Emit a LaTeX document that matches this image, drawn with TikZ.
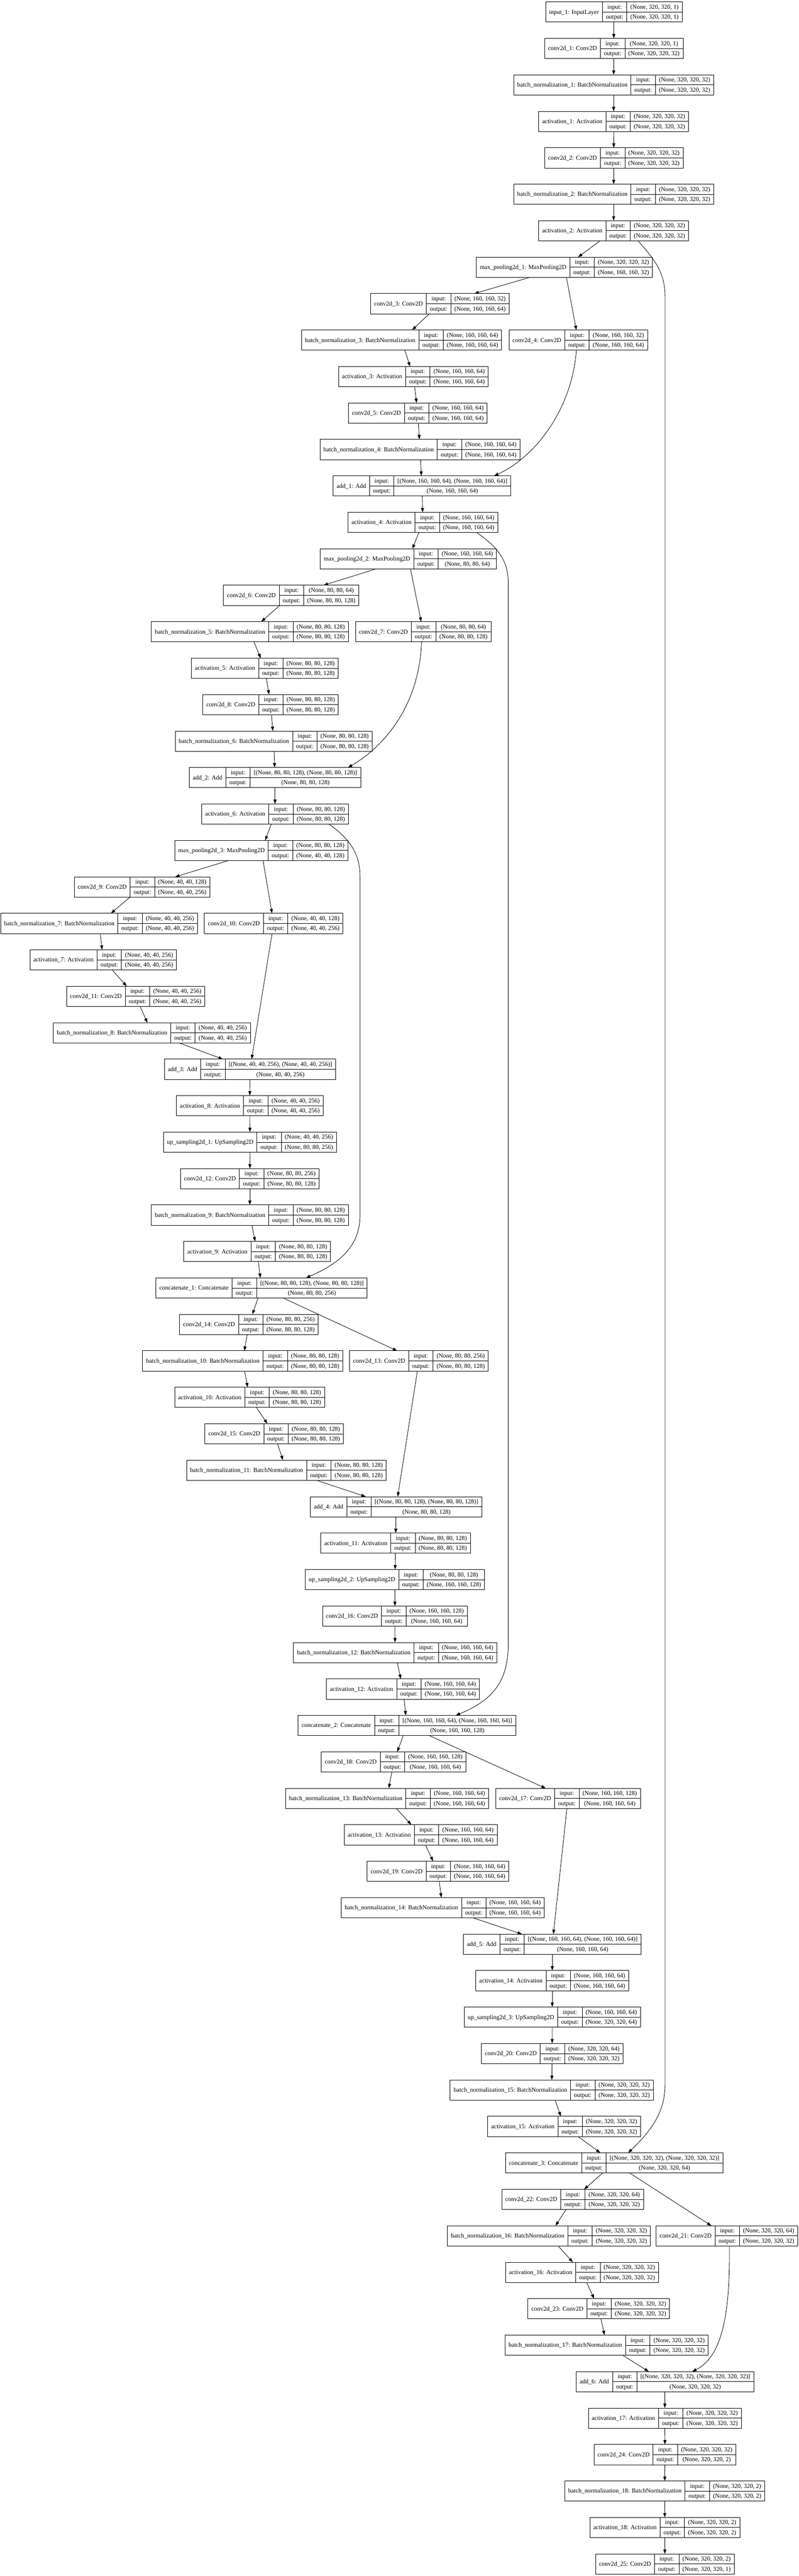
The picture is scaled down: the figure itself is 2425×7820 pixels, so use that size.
\documentclass[tikz,border=0pt]{standalone}
\usepackage{fontspec}
\newfontfamily\tnr{Liberation Serif}
\usetikzlibrary{arrows.meta}
\newcommand\lf{\tnr\fontsize{18.67pt}{22pt}\selectfont}
\newcommand\us{\char95\relax}
\newdimen\Lwn \newdimen\Lwio \newdimen\Lwv \newdimen\Ltmp
\tikzset{
  recbox/.style={draw, line width=1.33pt, inner sep=0pt, outer sep=0pt, rectangle},
  fld/.style={line width=1.33pt},
  txt/.style={inner sep=0pt, font=\tnrA, text height=14pt, text depth=2pt},
  edge/.style={line width=1.33pt, -{Triangle[length=13.3pt,width=9.3pt]}},
}
% #1 id, #2 centre x, #3 rank, #4 name, #5 input shape, #6 output shape
\newcommand\layer[6]{%
  \setbox0\hbox{\tnrA #4}\Lwn=\wd0
  \setbox0\hbox{\tnrA output:}\Lwio=\wd0
  \setbox0\hbox{\tnrA #5}\Lwv=\wd0
  \setbox0\hbox{\tnrA #6}\Ltmp=\wd0
  \ifdim\Ltmp>\Lwv \Lwv=\Ltmp\fi
  \pgfmathsetmacro\Wn{\Lwn+21.33}%
  \pgfmathsetmacro\Wio{\Lwio+21.33}%
  \pgfmathsetmacro\Wv{\Lwv+21.33}%
  \pgfmathsetmacro\Wt{\Wn+\Wio+\Wv}%
  \pgfmathsetmacro\Xl{#2-\Wt/2}%
  \pgfmathsetmacro\Yt{-(5.8+110.67*(#3-1))}%
  \pgfmathsetmacro\Xa{\Xl+\Wn}%
  \pgfmathsetmacro\Xb{\Xa+\Wio}%
  \pgfmathsetmacro\Xr{\Xl+\Wt}%
  \pgfmathsetmacro\Ym{\Yt-30.665}%
  \pgfmathsetmacro\Yb{\Yt-61.33}%
  \pgfmathsetmacro\Yi{\Yt-15.33}%
  \pgfmathsetmacro\Yo{\Yt-46}%
  \pgfmathsetmacro\Xn{\Xl+\Wn/2}%
  \pgfmathsetmacro\Xio{\Xa+\Wio/2}%
  \pgfmathsetmacro\Xv{\Xb+\Wv/2}%
  \node[recbox, minimum width=\Wt pt, minimum height=61.33pt, anchor=north west] (#1) at (\Xl,\Yt) {};
  \draw[fld] (\Xa,\Yt) -- (\Xa,\Yb) (\Xb,\Yt) -- (\Xb,\Yb) (\Xa,\Ym) -- (\Xr,\Ym);
  \node[txt] (#1-n) at (\Xn,\Ym) {#4};
  \node[txt] (#1-i) at (\Xio,\Yi) {input:};
  \node[txt] (#1-o) at (\Xio,\Yo) {output:};
  \node[txt] (#1-vi) at (\Xv,\Yi) {#5};
  \node[txt] (#1-vo) at (\Xv,\Yo) {#6};
}
\begin{document}
\begingroup\lf\expandafter\global\expandafter\let\expandafter\tnrA\the\font\endgroup
\begin{tikzpicture}[x=1pt,y=1pt]
\fill[white] (0,0) rectangle (2425,-7820);
\useasboundingbox (0,0) rectangle (2425,-7820);
\layer{in1}{1863.5}{1}{input\us1: InputLayer}{(None, 320, 320, 1)}{(None, 320, 320, 1)}
\layer{c1}{1863.5}{2}{conv2d\us1: Conv2D}{(None, 320, 320, 1)}{(None, 320, 320, 32)}
\layer{bn1}{1863}{3}{batch\us normalization\us1: BatchNormalization}{(None, 320, 320, 32)}{(None, 320, 320, 32)}
\layer{a1}{1863}{4}{activation\us1: Activation}{(None, 320, 320, 32)}{(None, 320, 320, 32)}
\layer{c2}{1863.5}{5}{conv2d\us2: Conv2D}{(None, 320, 320, 32)}{(None, 320, 320, 32)}
\layer{bn2}{1863}{6}{batch\us normalization\us2: BatchNormalization}{(None, 320, 320, 32)}{(None, 320, 320, 32)}
\layer{a2}{1863}{7}{activation\us2: Activation}{(None, 320, 320, 32)}{(None, 320, 320, 32)}
\layer{mp1}{1713.8}{8}{max\us pooling2d\us1: MaxPooling2D}{(None, 320, 320, 32)}{(None, 160, 160, 32)}
\layer{c3}{1335.5}{9}{conv2d\us3: Conv2D}{(None, 160, 160, 32)}{(None, 160, 160, 64)}
\layer{bn3}{1219}{10}{batch\us normalization\us3: BatchNormalization}{(None, 160, 160, 64)}{(None, 160, 160, 64)}
\layer{c4}{1755.5}{10}{conv2d\us4: Conv2D}{(None, 160, 160, 32)}{(None, 160, 160, 64)}
\layer{a3}{1255}{11}{activation\us3: Activation}{(None, 160, 160, 64)}{(None, 160, 160, 64)}
\layer{c5}{1268.5}{12}{conv2d\us5: Conv2D}{(None, 160, 160, 64)}{(None, 160, 160, 64)}
\layer{bn4}{1275}{13}{batch\us normalization\us4: BatchNormalization}{(None, 160, 160, 64)}{(None, 160, 160, 64)}
\layer{add1}{1281}{14}{add\us1: Add}{[(None, 160, 160, 64), (None, 160, 160, 64)]}{(None, 160, 160, 64)}
\layer{a4}{1284}{15}{activation\us4: Activation}{(None, 160, 160, 64)}{(None, 160, 160, 64)}
\layer{mp2}{1239.8}{16}{max\us pooling2d\us2: MaxPooling2D}{(None, 160, 160, 64)}{(None, 80, 80, 64)}
\layer{c6}{884}{17}{conv2d\us6: Conv2D}{(None, 80, 80, 64)}{(None, 80, 80, 128)}
\layer{bn5}{758.5}{18}{batch\us normalization\us5: BatchNormalization}{(None, 80, 80, 128)}{(None, 80, 80, 128)}
\layer{c7}{1285}{18}{conv2d\us7: Conv2D}{(None, 80, 80, 64)}{(None, 80, 80, 128)}
\layer{a5}{804}{19}{activation\us5: Activation}{(None, 80, 80, 128)}{(None, 80, 80, 128)}
\layer{c8}{821.5}{20}{conv2d\us8: Conv2D}{(None, 80, 80, 128)}{(None, 80, 80, 128)}
\layer{bn6}{831}{21}{batch\us normalization\us6: BatchNormalization}{(None, 80, 80, 128)}{(None, 80, 80, 128)}
\layer{add2}{835}{22}{add\us2: Add}{[(None, 80, 80, 128), (None, 80, 80, 128)]}{(None, 80, 80, 128)}
\layer{a6}{835}{23}{activation\us6: Activation}{(None, 80, 80, 128)}{(None, 80, 80, 128)}
\layer{mp3}{793.5}{24}{max\us pooling2d\us3: MaxPooling2D}{(None, 80, 80, 128)}{(None, 40, 40, 128)}
\layer{c9}{431.3}{25}{conv2d\us9: Conv2D}{(None, 40, 40, 128)}{(None, 40, 40, 256)}
\layer{bn7}{300.7}{26}{batch\us normalization\us7: BatchNormalization}{(None, 40, 40, 256)}{(None, 40, 40, 256)}
\layer{c10}{831}{26}{conv2d\us10: Conv2D}{(None, 40, 40, 128)}{(None, 40, 40, 256)}
\layer{a7}{313.5}{27}{activation\us7: Activation}{(None, 40, 40, 256)}{(None, 40, 40, 256)}
\layer{c11}{411.8}{28}{conv2d\us11: Conv2D}{(None, 40, 40, 256)}{(None, 40, 40, 256)}
\layer{bn8}{461}{29}{batch\us normalization\us8: BatchNormalization}{(None, 40, 40, 256)}{(None, 40, 40, 256)}
\layer{add3}{759}{30}{add\us3: Add}{[(None, 40, 40, 256), (None, 40, 40, 256)]}{(None, 40, 40, 256)}
\layer{a8}{758.3}{31}{activation\us8: Activation}{(None, 40, 40, 256)}{(None, 40, 40, 256)}
\layer{up1}{759}{32}{up\us sampling2d\us1: UpSampling2D}{(None, 40, 40, 256)}{(None, 80, 80, 256)}
\layer{c12}{758.5}{33}{conv2d\us12: Conv2D}{(None, 80, 80, 256)}{(None, 80, 80, 128)}
\layer{bn9}{758.5}{34}{batch\us normalization\us9: BatchNormalization}{(None, 80, 80, 128)}{(None, 80, 80, 128)}
\layer{a9}{781}{35}{activation\us9: Activation}{(None, 80, 80, 128)}{(None, 80, 80, 128)}
\layer{cat1}{794}{36}{concatenate\us1: Concatenate}{[(None, 80, 80, 128), (None, 80, 80, 128)]}{(None, 80, 80, 256)}
\layer{c14}{755.5}{37}{conv2d\us14: Conv2D}{(None, 80, 80, 256)}{(None, 80, 80, 128)}
\layer{bn10}{736.7}{38}{batch\us normalization\us10: BatchNormalization}{(None, 80, 80, 128)}{(None, 80, 80, 128)}
\layer{c13}{1272}{38}{conv2d\us13: Conv2D}{(None, 80, 80, 256)}{(None, 80, 80, 128)}
\layer{a10}{757.8}{39}{activation\us10: Activation}{(None, 80, 80, 128)}{(None, 80, 80, 128)}
\layer{c15}{832.4}{40}{conv2d\us15: Conv2D}{(None, 80, 80, 128)}{(None, 80, 80, 128)}
\layer{bn11}{869.4}{41}{batch\us normalization\us11: BatchNormalization}{(None, 80, 80, 128)}{(None, 80, 80, 128)}
\layer{add4}{1202.5}{42}{add\us4: Add}{[(None, 80, 80, 128), (None, 80, 80, 128)]}{(None, 80, 80, 128)}
\layer{a11}{1201}{43}{activation\us11: Activation}{(None, 80, 80, 128)}{(None, 80, 80, 128)}
\layer{up2}{1199}{44}{up\us sampling2d\us2: UpSampling2D}{(None, 80, 80, 128)}{(None, 160, 160, 128)}
\layer{c16}{1199}{45}{conv2d\us16: Conv2D}{(None, 160, 160, 128)}{(None, 160, 160, 64)}
\layer{bn12}{1199.5}{46}{batch\us normalization\us12: BatchNormalization}{(None, 160, 160, 64)}{(None, 160, 160, 64)}
\layer{a12}{1223.5}{47}{activation\us12: Activation}{(None, 160, 160, 64)}{(None, 160, 160, 64)}
\layer{cat2}{1235.4}{48}{concatenate\us2: Concatenate}{[(None, 160, 160, 64), (None, 160, 160, 64)]}{(None, 160, 160, 128)}
\layer{c18}{1195}{49}{conv2d\us18: Conv2D}{(None, 160, 160, 128)}{(None, 160, 160, 64)}
\layer{bn13}{1175}{50}{batch\us normalization\us13: BatchNormalization}{(None, 160, 160, 64)}{(None, 160, 160, 64)}
\layer{c17}{1724.4}{50}{conv2d\us17: Conv2D}{(None, 160, 160, 128)}{(None, 160, 160, 64)}
\layer{a13}{1277}{51}{activation\us13: Activation}{(None, 160, 160, 64)}{(None, 160, 160, 64)}
\layer{c19}{1329.5}{52}{conv2d\us19: Conv2D}{(None, 160, 160, 64)}{(None, 160, 160, 64)}
\layer{bn14}{1344}{53}{batch\us normalization\us14: BatchNormalization}{(None, 160, 160, 64)}{(None, 160, 160, 64)}
\layer{add5}{1676.7}{54}{add\us5: Add}{[(None, 160, 160, 64), (None, 160, 160, 64)]}{(None, 160, 160, 64)}
\layer{a14}{1676.7}{55}{activation\us14: Activation}{(None, 160, 160, 64)}{(None, 160, 160, 64)}
\layer{up3}{1676.7}{56}{up\us sampling2d\us3: UpSampling2D}{(None, 160, 160, 64)}{(None, 320, 320, 64)}
\layer{c20}{1676.3}{57}{conv2d\us20: Conv2D}{(None, 320, 320, 64)}{(None, 320, 320, 32)}
\layer{bn15}{1675}{58}{batch\us normalization\us15: BatchNormalization}{(None, 320, 320, 32)}{(None, 320, 320, 32)}
\layer{a15}{1713}{59}{activation\us15: Activation}{(None, 320, 320, 32)}{(None, 320, 320, 32)}
\layer{cat3}{1864.5}{60}{concatenate\us3: Concatenate}{[(None, 320, 320, 32), (None, 320, 320, 32)]}{(None, 320, 320, 64)}
\layer{c22}{1738.4}{61}{conv2d\us22: Conv2D}{(None, 320, 320, 64)}{(None, 320, 320, 32)}
\layer{bn16}{1666.7}{62}{batch\us normalization\us16: BatchNormalization}{(None, 320, 320, 32)}{(None, 320, 320, 32)}
\layer{c21}{2207}{62}{conv2d\us21: Conv2D}{(None, 320, 320, 64)}{(None, 320, 320, 32)}
\layer{a16}{1766.8}{63}{activation\us16: Activation}{(None, 320, 320, 32)}{(None, 320, 320, 32)}
\layer{c23}{1817.9}{64}{conv2d\us23: Conv2D}{(None, 320, 320, 32)}{(None, 320, 320, 32)}
\layer{bn17}{1841.9}{65}{batch\us normalization\us17: BatchNormalization}{(None, 320, 320, 32)}{(None, 320, 320, 32)}
\layer{add6}{2018.5}{66}{add\us6: Add}{[(None, 320, 320, 32), (None, 320, 320, 32)]}{(None, 320, 320, 32)}
\layer{a17}{2018.4}{67}{activation\us17: Activation}{(None, 320, 320, 32)}{(None, 320, 320, 32)}
\layer{c24}{2018.8}{68}{conv2d\us24: Conv2D}{(None, 320, 320, 32)}{(None, 320, 320, 2)}
\layer{bn18}{2018}{69}{batch\us normalization\us18: BatchNormalization}{(None, 320, 320, 2)}{(None, 320, 320, 2)}
\layer{a18}{2018.4}{70}{activation\us18: Activation}{(None, 320, 320, 2)}{(None, 320, 320, 2)}
\layer{c25}{2018.5}{71}{conv2d\us25: Conv2D}{(None, 320, 320, 2)}{(None, 320, 320, 1)}
% straight connectors (centre to centre, as dot draws them)
\foreach \a/\b in {in1/c1, c1/bn1, bn1/a1, a1/c2, c2/bn2, bn2/a2, a2/mp1, mp1/c3, mp1/c4,
  c3/bn3, bn3/a3, a3/c5, c5/bn4, bn4/add1, add1/a4, a4/mp2, mp2/c6, mp2/c7, c6/bn5, bn5/a5,
  a5/c8, c8/bn6, bn6/add2, add2/a6, a6/mp3, mp3/c9, mp3/c10, c9/bn7, bn7/a7, a7/c11,
  c11/bn8, bn8/add3, c10/add3, add3/a8, a8/up1, up1/c12, c12/bn9, bn9/a9, a9/cat1,
  cat1/c14, cat1/c13, c14/bn10, bn10/a10, a10/c15, c15/bn11, bn11/add4, c13/add4,
  add4/a11, a11/up2, up2/c16, c16/bn12, bn12/a12, a12/cat2, cat2/c18, cat2/c17,
  c18/bn13, bn13/a13, a13/c19, c19/bn14, bn14/add5, c17/add5, add5/a14, a14/up3,
  up3/c20, c20/bn15, bn15/a15, a15/cat3, cat3/c22, cat3/c21, c22/bn16, bn16/a16,
  a16/c23, c23/bn17, bn17/add6, add6/a17, a17/c24, c24/bn18, bn18/a18, a18/c25}
  {\draw[edge] (\a) -- (\b);}
% curved shortcut connectors
\draw[edge] ([xshift=-5.5pt]c4.south) .. controls (1735,-1250) and (1620,-1390) .. ([xshift=219pt]add1.north);
\draw[edge] ([xshift=-5pt]c7.south) .. controls (1272,-2150) and (1160,-2270) .. ([xshift=221.5pt]add2.north);
\draw[edge] ([xshift=7.6pt]c21.south) .. controls (2216,-7000) and (2200,-7150) .. ([xshift=83.2pt]add6.north);
% long skip connectors
\draw[edge] ([xshift=74pt]a2.south) .. controls (1990,-790) and (2019,-830) .. (2019,-900)
  -- (2019,-6330) .. controls (2019,-6420) and (1965,-6480) .. ([xshift=42.5pt]cat3.north);
\draw[edge] ([xshift=163pt]a4.south) .. controls (1510,-1660) and (1543,-1700) .. (1543,-1770)
  -- (1543,-4990) .. controls (1543,-5100) and (1500,-5160) .. ([xshift=148.3pt]cat2.north);
\draw[edge] ([xshift=163.7pt]a6.south) .. controls (1060,-2545) and (1093,-2590) .. (1093,-2660)
  -- (1093,-3690) .. controls (1093,-3790) and (1020,-3840) .. ([xshift=134.7pt]cat1.north);
\end{tikzpicture}
\end{document}
